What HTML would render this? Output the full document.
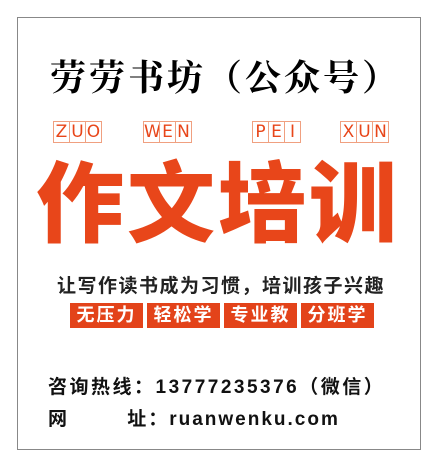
<!DOCTYPE html>
<html><head><meta charset="utf-8"><style>
body{margin:0;width:435px;height:465px;background:#fff;position:relative;overflow:hidden;font-family:"Liberation Sans","Noto Sans CJK SC",sans-serif}
.frame{position:absolute;left:17px;top:17px;width:402px;height:431px;border:1px solid #888}
.abs{position:absolute;white-space:nowrap}
.py{position:absolute;top:121px;display:flex}
.py span{width:15px;height:20px;border:1px solid #f0a080;margin-right:-1px;color:#e8461a;font-size:17px;line-height:20px;text-align:center;font-family:"DejaVu Sans",sans-serif}
.badges{position:absolute;left:70px;top:303px;display:flex;gap:4px;white-space:nowrap}
.badges span{box-sizing:border-box;background:#e3431a;color:#fff;font-weight:bold;font-size:18px;line-height:25px;padding:0;letter-spacing:2px;width:73px;text-align:center;white-space:nowrap}
</style></head><body>
<div class="frame"></div>
<div class="abs" style="left:50px;top:50px;font-size:36px;font-weight:bold;font-family:'Noto Serif CJK SC',serif;letter-spacing:3px">劳劳书坊（公众号）</div>
<div class="py" style="left:53px"><span>Z</span><span>U</span><span>O</span></div>
<div class="py" style="left:143px"><span>W</span><span>E</span><span>N</span></div>
<div class="py" style="left:252px"><span>P</span><span>E</span><span>I</span></div>
<div class="py" style="left:340px"><span>X</span><span>U</span><span>N</span></div>
<div class="abs" style="left:36px;top:150px;font-size:88px;font-weight:900;color:#e8461a;line-height:110px;letter-spacing:3px">作文培训</div>
<div class="abs" style="left:57px;top:271px;font-size:19px;font-weight:bold;color:#222;letter-spacing:1.5px">让写作读书成为习惯，培训孩子兴趣</div>
<div class="badges"><span>无压力</span><span>轻松学</span><span>专业教</span><span>分班学</span></div>
<div class="abs" style="left:48px;top:372px;font-size:19px;font-weight:bold;color:#111;letter-spacing:2.5px">咨询热线：13777235376（微信）</div>
<div class="abs" style="left:48px;top:404px;font-size:19px;font-weight:bold;color:#111;letter-spacing:2px">网&nbsp;&nbsp;&nbsp;&nbsp;&nbsp;&nbsp;&nbsp;&nbsp;址：ruanwenku.com</div>
</body></html>
